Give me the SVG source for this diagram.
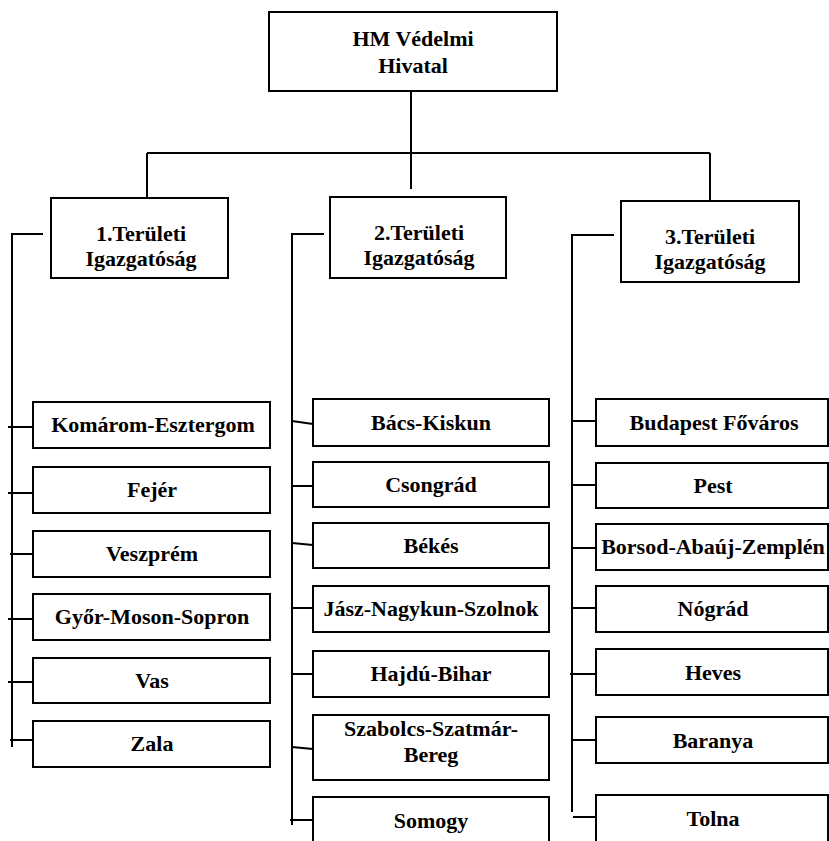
<svg xmlns="http://www.w3.org/2000/svg" width="829" height="841" viewBox="0 0 829 841" font-family="'Liberation Serif', 'DejaVu Serif', serif">
<style>
.box{fill:#fff;stroke:#000;stroke-width:2}
.ln{stroke:#000;stroke-width:2;fill:none}
.t{font-family:'Liberation Serif', 'DejaVu Serif', serif;font-weight:bold;font-size:22px;text-anchor:middle;fill:#000}
</style>
<rect width="829" height="841" fill="#fff"/>
<g id="connectors" class="ln">
<path d="M411 91V189M147 153H710M147 153V198M710 153V201"/>
<path d="M43 234H12V747"/>
<path d="M324 234H292V825"/>
<path d="M614 235H572V812"/>
<path d="M8 427H33M8 493H33M10 554H35M8 619H33M8 682H33M10 740H33"/>
<path d="M292 421L313 424M292 486H313M292 543L313 545M292 608H313M292 674H313M292 747L313 749M290 820H313"/>
<path d="M572 421H596M572 485H596M572 548H596M572 608H596M570 674H596M572 740H596M573 817H600"/>
</g>
<g id="hm"><rect class="box" x="269" y="12" width="288" height="79"/><text class="t" x="413" y="46">HM Védelmi</text><text class="t" x="413" y="73">Hivatal</text></g>
<g id="t1"><rect class="box" x="51" y="198" width="177" height="80"/><text class="t" x="141" y="241">1.Területi</text><text class="t" x="141" y="265.5">Igazgatóság</text></g>
<g id="t2"><rect class="box" x="330" y="197" width="176" height="81"/><text class="t" x="419" y="240">2.Területi</text><text class="t" x="419" y="264.5">Igazgatóság</text></g>
<g id="t3"><rect class="box" x="621" y="201" width="178" height="81"/><text class="t" x="710" y="244">3.Területi</text><text class="t" x="710" y="268.5">Igazgatóság</text></g>

<g id="komarom"><rect class="box" x="33" y="402" width="237" height="46"/><text class="t" x="153" y="432">Komárom-Esztergom</text></g>
<g id="fejer"><rect class="box" x="33" y="467" width="237" height="46"/><text class="t" x="152" y="497">Fejér</text></g>
<g id="veszprem"><rect class="box" x="33" y="531" width="237" height="46"/><text class="t" x="152" y="561">Veszprém</text></g>
<g id="gyor"><rect class="box" x="33" y="594" width="237" height="46"/><text class="t" x="152" y="624">Győr-Moson-Sopron</text></g>
<g id="vas"><rect class="box" x="33" y="658" width="237" height="45"/><text class="t" x="152" y="688">Vas</text></g>
<g id="zala"><rect class="box" x="33" y="721" width="237" height="46"/><text class="t" x="152" y="751">Zala</text></g>

<g id="bacs"><rect class="box" x="313" y="399" width="236" height="47"/><text class="t" x="431" y="430">Bács-Kiskun</text></g>
<g id="csongrad"><rect class="box" x="313" y="462" width="236" height="45"/><text class="t" x="431" y="492">Csongrád</text></g>
<g id="bekes"><rect class="box" x="313" y="523" width="236" height="45"/><text class="t" x="431" y="553">Békés</text></g>
<g id="jasz"><rect class="box" x="313" y="586" width="236" height="46"/><text class="t" x="431" y="616">Jász-Nagykun-Szolnok</text></g>
<g id="hajdu"><rect class="box" x="313" y="651" width="236" height="46"/><text class="t" x="431" y="681">Hajdú-Bihar</text></g>
<g id="szabolcs"><rect class="box" x="313" y="715" width="236" height="65"/><text class="t" x="431" y="736">Szabolcs-Szatmár-</text><text class="t" x="431" y="762">Bereg</text></g>
<g id="somogy"><rect class="box" x="313" y="797" width="236" height="60"/><text class="t" x="431" y="828">Somogy</text></g>

<g id="budapest"><rect class="box" x="596" y="399" width="232" height="47"/><text class="t" x="714" y="430">Budapest Főváros</text></g>
<g id="pest"><rect class="box" x="596" y="463" width="232" height="45"/><text class="t" x="713" y="493">Pest</text></g>
<g id="borsod"><rect class="box" x="596" y="524" width="232" height="46"/><text class="t" x="713" y="554">Borsod-Abaúj-Zemplén</text></g>
<g id="nograd"><rect class="box" x="596" y="586" width="232" height="46"/><text class="t" x="713" y="616">Nógrád</text></g>
<g id="heves"><rect class="box" x="596" y="649" width="232" height="46"/><text class="t" x="713" y="680">Heves</text></g>
<g id="baranya"><rect class="box" x="596" y="717" width="232" height="46"/><text class="t" x="713" y="748">Baranya</text></g>
<g id="tolna"><rect class="box" x="596" y="795" width="232" height="60"/><text class="t" x="713" y="826">Tolna</text></g>
</svg>
